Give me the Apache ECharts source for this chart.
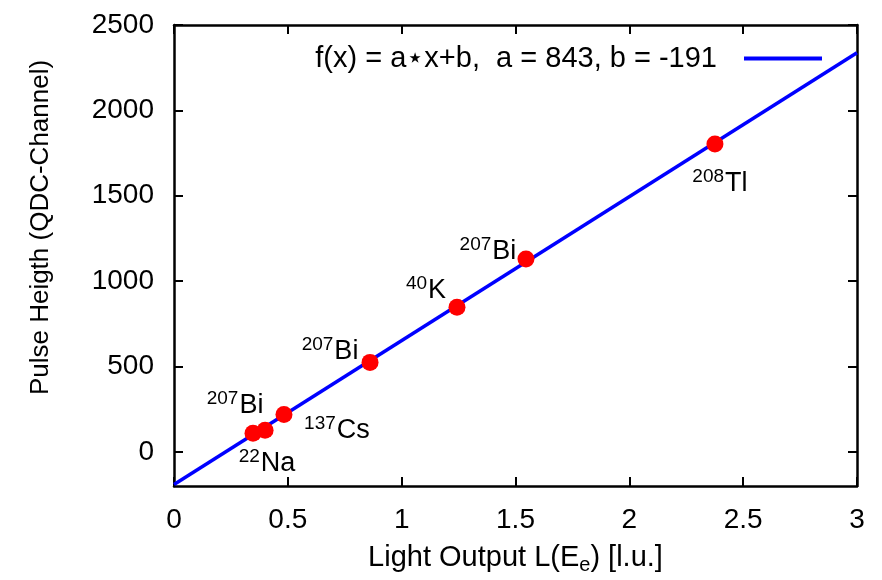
<!DOCTYPE html>
<html>
<head>
<meta charset="utf-8">
<script src="https://cdn.jsdelivr.net/npm/echarts@6/dist/echarts.min.js"></script>
<style>html,body{margin:0;padding:0;background:#fff;}#c{width:882px;height:580px;}</style>
</head>
<body>
<div id="c"></div>
<script>
// ---- data ----
var lightOutput = [0.347, 0.400, 0.483, 0.861, 1.243, 1.546, 2.376];
var pulseHeight = [109, 127, 219, 524, 847, 1129, 1803];
var massNumbers = ['22', '207', '137', '207', '40', '207', '208'];
var elements = ['Na', 'Bi', 'Cs', 'Bi', 'K', 'Bi', 'Tl'];
var fitX = [0, 3];
var fitY = [-191, 2338];
var fitLabel = 'f(x) = a\u22C6x+b,  a = 843, b = -191';
var xTicks = [0, 0.5, 1, 1.5, 2, 2.5, 3];
var yTicks = [0, 500, 1000, 1500, 2000, 2500];

// ---- styles (label offsets relative to point centre) ----
var labelOffsets = [[14, 29], [-30, -26], [53, 15], [-40, -12], [-31, -18], [-38, -9], [5, 38]];

var FONT = '"Liberation Sans", Arial, sans-serif';
var rich = {
  sup: {fontSize: 19, fontFamily: FONT, color: '#000', verticalAlign: 'top', lineHeight: 22, padding: [0, 1, 0, 0]},
  m: {fontSize: 27, fontFamily: FONT, color: '#000', verticalAlign: 'bottom', lineHeight: 30}
};

var scatterData = lightOutput.map(function (x, i) {
  return {
    value: [x, pulseHeight[i]],
    label: {
      show: true,
      position: 'inside',
      offset: labelOffsets[i],
      formatter: '{sup|' + massNumbers[i] + '}{m|' + elements[i] + '}',
      rich: rich
    }
  };
});

var fitData = fitX.map(function (x, i) { return [x, fitY[i]]; });

var chart = echarts.init(document.getElementById('c'), null, {renderer: 'canvas'});
var tickStyle = {show: true, inside: true, length: 9, lineStyle: {color: '#000', width: 2}};
var axisCommon = {
  type: 'value',
  axisLine: {show: true, onZero: false, lineStyle: {color: '#000', width: 2.5}},
  splitLine: {show: false}
};
chart.setOption({
  animation: false,
  backgroundColor: '#fff',
  textStyle: {fontFamily: FONT},
  grid: {left: 174, right: 25, top: 25, bottom: 88, show: false},
  legend: {
    data: [{name: fitLabel, icon: 'rect', itemStyle: {color: '#0000ff'}}],
    right: 55, top: 39,
    align: 'right',
    itemWidth: 78, itemHeight: 4,
    textStyle: {fontSize: 29, fontFamily: FONT, color: '#000', padding: [0, 22, 0, 0]},
    selectedMode: false
  },
  xAxis: [
    Object.assign({}, axisCommon, {
      min: 0, max: 3, interval: 0.5,
      position: 'bottom',
      axisTick: Object.assign({customValues: xTicks}, tickStyle),
      axisLabel: {fontSize: 28, fontFamily: FONT, color: '#000', margin: 20, customValues: xTicks},
      name: '{t|Light Output L(E}{s|e}{t|) [l.u.]}',
      nameLocation: 'middle', nameGap: 57,
      nameTextStyle: {
        rich: {
          t: {fontSize: 29, fontFamily: FONT, color: '#000', verticalAlign: 'top', lineHeight: 32},
          s: {fontSize: 20, fontFamily: FONT, color: '#000', verticalAlign: 'bottom', lineHeight: 32}
        }
      }
    }),
    Object.assign({}, axisCommon, {
      min: 0, max: 3, interval: 0.5,
      position: 'top',
      axisTick: Object.assign({customValues: xTicks}, tickStyle),
      axisLabel: {show: false}
    })
  ],
  yAxis: [
    Object.assign({}, axisCommon, {
      min: -200, max: 2500,
      position: 'left',
      axisTick: Object.assign({customValues: yTicks}, tickStyle),
      axisLabel: {fontSize: 28, fontFamily: FONT, color: '#000', margin: 20, customValues: yTicks,
        formatter: function (v) { return String(v); }},
      name: 'Pulse Heigth (QDC-Channel)',
      nameLocation: 'middle', nameGap: 120,
      nameTextStyle: {fontSize: 26, fontFamily: FONT, color: '#000', padding: [0, 0, 0, 56]}
    }),
    Object.assign({}, axisCommon, {
      min: -200, max: 2500,
      position: 'right',
      axisTick: Object.assign({customValues: yTicks}, tickStyle),
      axisLabel: {show: false}
    })
  ],
  series: [
    {
      name: fitLabel,
      type: 'line',
      data: fitData,
      symbol: 'none',
      showSymbol: false,
      lineStyle: {color: '#0000ff', width: 3.5},
      itemStyle: {color: '#0000ff'},
      z: 2
    },
    {
      name: 'points',
      type: 'scatter',
      data: scatterData,
      symbol: 'circle',
      symbolSize: 17,
      itemStyle: {color: '#ff0000', opacity: 1},
      z: 3
    }
  ]
});
</script>
</body>
</html>
